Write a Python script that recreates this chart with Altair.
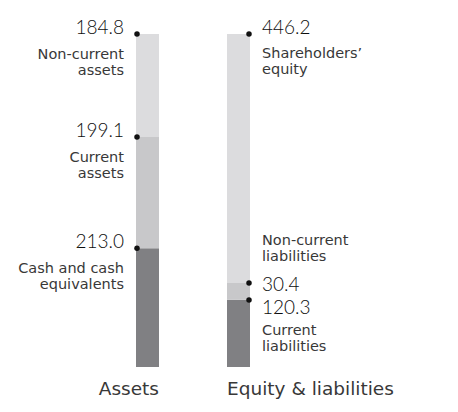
import altair as alt
import pandas as pd

categories = ["Assets", "Equity & liabilities"]
asset_items = ["Cash and cash\nequivalents", "Current\nassets", "Non-current\nassets"]
asset_values = [213.0, 199.1, 184.8]
liab_items = ["Current\nliabilities", "Non-current\nliabilities", "Shareholders’\nequity"]
liab_values = [120.3, 30.4, 446.2]
shades = ["dark", "medium", "light"]
shade_colors = ["#808083", "#c8c8ca", "#dcdcde"]

rows = []
for side, items, vals in [(categories[0], asset_items, asset_values),
                          (categories[1], liab_items, liab_values)]:
    cum = 0.0
    for k, (it, v) in enumerate(zip(items, vals)):
        rows.append(dict(side=side, item=it, value=v, shade=shades[k], key=k,
                         y0=cum, y1=cum + v, zero=0.0))
        cum += v
df = pd.DataFrame(rows)
total = sum(asset_values)

xscale = alt.Scale(domain=categories, paddingInner=0.7473, paddingOuter=0)
yscale = alt.Scale(domain=[0, total], nice=False, zero=True)
X = alt.X("side:N", scale=xscale, axis=None)
Y1 = alt.Y("y1:Q", scale=yscale, axis=None)

base = alt.Chart(df)

bars = base.mark_bar().encode(
    x=X,
    y=alt.Y("y0:Q", scale=yscale, axis=None),
    y2="y1:Q",
    color=alt.Color("shade:N", scale=alt.Scale(domain=shades, range=shade_colors), legend=None),
)


def side_filter(side, keys=None):
    expr = f"datum.side === '{side}'"
    if keys is not None:
        expr += " && indexof([" + ",".join(str(k) for k in keys) + "], datum.key) >= 0"
    return expr


dots_a = base.transform_filter(side_filter(categories[0])).mark_circle(
    size=30, color="#111111", opacity=1, xOffset=-10.5).encode(x=X, y=Y1)
dots_l = base.transform_filter(side_filter(categories[1])).mark_circle(
    size=30, color="#111111", opacity=1, xOffset=10.5).encode(x=X, y=Y1)

VAL = dict(font="Lato", fontSize=19, fontWeight=300, color="#0d0d0d")
SUB = dict(font="DejaVu Sans", fontSize=14.5, color="#383838",
           lineBreak="\n", lineHeight=16)


def value_layer(side, keys, **kw):
    return base.transform_filter(side_filter(side, keys)).mark_text(**VAL, **kw).encode(
        x=X, y=Y1, text=alt.Text("value:Q", format=".1f"))


def sub_layer(side, keys, **kw):
    return base.transform_filter(side_filter(side, keys)).mark_text(**SUB, **kw).encode(
        x=X, y=Y1, text="item:N")


layers = [
    bars, dots_a, dots_l,
    value_layer(categories[0], [0, 1, 2], align="right", baseline="alphabetic", dx=-23.5, dy=0),
    sub_layer(categories[0], [0, 1, 2], align="right", baseline="alphabetic", dx=-23.5, dy=25),
    value_layer(categories[1], [2], align="left", baseline="alphabetic", dx=23.5, dy=0),
    value_layer(categories[1], [1], align="left", baseline="middle", dx=23.5, dy=2),
    value_layer(categories[1], [0], align="left", baseline="top", dx=23.5, dy=-1),
    sub_layer(categories[1], [2], align="left", baseline="alphabetic", dx=23.5, dy=24),
    sub_layer(categories[1], [1], align="left", baseline="alphabetic", dx=23.5, dy=-38),
    sub_layer(categories[1], [0], align="left", baseline="alphabetic", dx=23.5, dy=35),
]

cat_df = pd.DataFrame({"side": categories, "zero": [0.0, 0.0]})
cat_base = alt.Chart(cat_df)
BOT = dict(font="DejaVu Sans", fontSize=18.5, color="#383838",
           baseline="alphabetic", dy=28)
bot_a = cat_base.transform_filter(side_filter(categories[0])).mark_text(
    align="right", dx=11.5, **BOT).encode(
    x=X, y=alt.Y("zero:Q", scale=yscale, axis=None), text="side:N")
bot_l = cat_base.transform_filter(side_filter(categories[1])).mark_text(
    align="left", dx=-11.5, **BOT).encode(
    x=X, y=alt.Y("zero:Q", scale=yscale, axis=None), text="side:N")
layers += [bot_a, bot_l]

chart = alt.layer(*layers).properties(
    width=114,
    height=333,
    padding={"left": 136, "top": 34, "right": 208, "bottom": 45},
    autosize=alt.AutoSizeParams(type="none"),
    background="white",
).configure_view(stroke=None)

chart.save("out.html", embed_options={"renderer": "svg", "actions": False})
